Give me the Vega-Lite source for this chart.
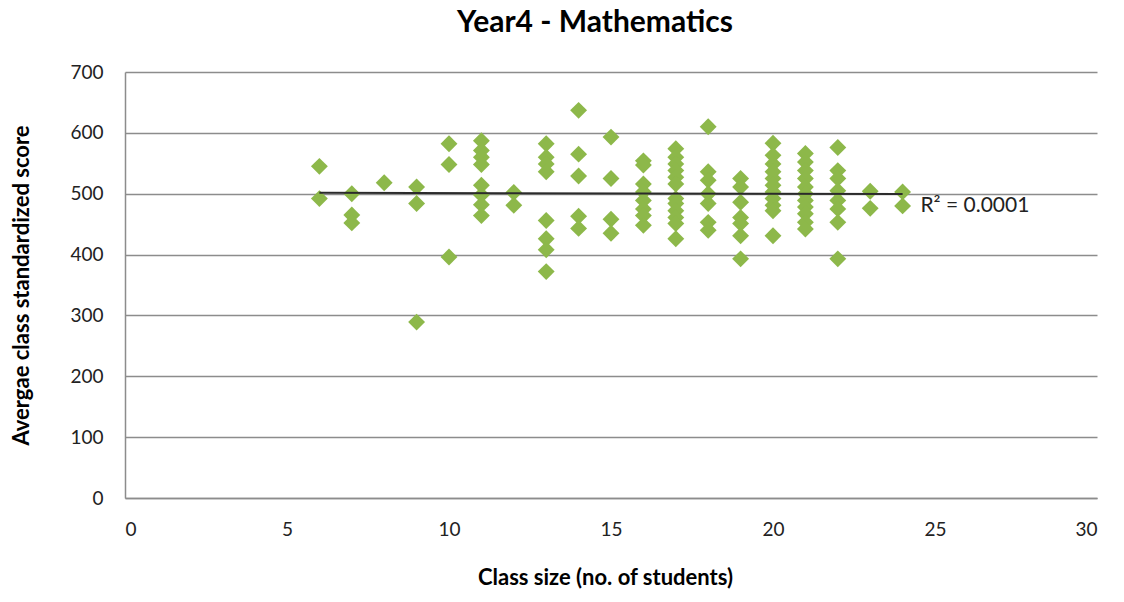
{
  "$schema": "https://vega.github.io/schema/vega-lite/v6.json",
  "autosize": {"type": "none"},
  "width": 972,
  "height": 426,
  "padding": {"left": 125, "top": 72, "right": 27, "bottom": 104},
  "background": "white",
  "config": {"view": {"stroke": null}, "font": "Lato"},
  "title": {
    "text": "Year4 - Mathematics",
    "font": "Lato",
    "fontSize": 30,
    "fontWeight": "bold",
    "color": "#000000",
    "anchor": "middle",
    "dx": -16,
    "offset": 25
  },
  "datasets": {
    "points": [
      {"size": 6, "score": 545}, {"size": 6, "score": 492},
      {"size": 7, "score": 500}, {"size": 7, "score": 465}, {"size": 7, "score": 452},
      {"size": 8, "score": 518},
      {"size": 9, "score": 511}, {"size": 9, "score": 484}, {"size": 9, "score": 289},
      {"size": 10, "score": 582}, {"size": 10, "score": 548}, {"size": 10, "score": 396},
      {"size": 11, "score": 587}, {"size": 11, "score": 571}, {"size": 11, "score": 560}, {"size": 11, "score": 548}, {"size": 11, "score": 514}, {"size": 11, "score": 498}, {"size": 11, "score": 482}, {"size": 11, "score": 464},
      {"size": 12, "score": 502}, {"size": 12, "score": 481},
      {"size": 13, "score": 582}, {"size": 13, "score": 560}, {"size": 13, "score": 549}, {"size": 13, "score": 536}, {"size": 13, "score": 456}, {"size": 13, "score": 426}, {"size": 13, "score": 408}, {"size": 13, "score": 372},
      {"size": 14, "score": 637}, {"size": 14, "score": 565}, {"size": 14, "score": 529}, {"size": 14, "score": 463}, {"size": 14, "score": 443},
      {"size": 15, "score": 593}, {"size": 15, "score": 525}, {"size": 15, "score": 458}, {"size": 15, "score": 435},
      {"size": 16, "score": 554}, {"size": 16, "score": 547}, {"size": 16, "score": 516}, {"size": 16, "score": 503}, {"size": 16, "score": 489}, {"size": 16, "score": 475}, {"size": 16, "score": 464}, {"size": 16, "score": 448},
      {"size": 17, "score": 574}, {"size": 17, "score": 560}, {"size": 17, "score": 549}, {"size": 17, "score": 538}, {"size": 17, "score": 527}, {"size": 17, "score": 516}, {"size": 17, "score": 492}, {"size": 17, "score": 484}, {"size": 17, "score": 472}, {"size": 17, "score": 461}, {"size": 17, "score": 451}, {"size": 17, "score": 426},
      {"size": 18, "score": 610}, {"size": 18, "score": 536}, {"size": 18, "score": 522}, {"size": 18, "score": 500}, {"size": 18, "score": 484}, {"size": 18, "score": 453}, {"size": 18, "score": 440},
      {"size": 19, "score": 525}, {"size": 19, "score": 511}, {"size": 19, "score": 486}, {"size": 19, "score": 461}, {"size": 19, "score": 451}, {"size": 19, "score": 431}, {"size": 19, "score": 393},
      {"size": 20, "score": 583}, {"size": 20, "score": 563}, {"size": 20, "score": 549}, {"size": 20, "score": 536}, {"size": 20, "score": 525}, {"size": 20, "score": 514}, {"size": 20, "score": 503}, {"size": 20, "score": 492}, {"size": 20, "score": 481}, {"size": 20, "score": 472}, {"size": 20, "score": 431},
      {"size": 21, "score": 566}, {"size": 21, "score": 552}, {"size": 21, "score": 538}, {"size": 21, "score": 525}, {"size": 21, "score": 511}, {"size": 21, "score": 500}, {"size": 21, "score": 489}, {"size": 21, "score": 478}, {"size": 21, "score": 467}, {"size": 21, "score": 453}, {"size": 21, "score": 442},
      {"size": 22, "score": 576}, {"size": 22, "score": 538}, {"size": 22, "score": 525}, {"size": 22, "score": 505}, {"size": 22, "score": 489}, {"size": 22, "score": 475}, {"size": 22, "score": 453}, {"size": 22, "score": 393},
      {"size": 23, "score": 504}, {"size": 23, "score": 476},
      {"size": 24, "score": 503}, {"size": 24, "score": 480}
    ],
    "trend": [
      {"size": 6, "score": 501.5},
      {"size": 24, "score": 499.5}
    ],
    "label": [
      {"size": 24.55, "score": 480, "text": "R² = 0.0001"}
    ]
  },
  "layer": [
    {
      "data": {"name": "points"},
      "mark": {"type": "point", "shape": "diamond", "filled": true, "size": 285, "color": "#8DB84A", "opacity": 1},
      "encoding": {
        "x": {
          "field": "size", "type": "quantitative",
          "scale": {"domain": [0, 30], "nice": false, "zero": true},
          "axis": {
            "title": "Class size (no. of students)",
            "values": [0, 5, 10, 15, 20, 25, 30],
            "grid": false,
            "ticks": false,
            "domainColor": "#8c8c8c",
            "domainWidth": 1.5,
            "labelFont": "Lato",
            "labelFontSize": 19,
            "labelColor": "#222222",
            "labelPadding": 22,
            "titleFont": "Lato",
            "titleFontSize": 22,
            "titleFontWeight": "bold",
            "titleColor": "#000000",
            "titlePadding": 28,
            "titleX": 480
          }
        },
        "y": {
          "field": "score", "type": "quantitative",
          "scale": {"domain": [0, 700], "nice": false},
          "axis": {
            "title": "Avergae class standardized  score",
            "values": [0, 100, 200, 300, 400, 500, 600, 700],
            "grid": true,
            "gridColor": "#8c8c8c",
            "gridWidth": 1.5,
            "ticks": false,
            "domainColor": "#8c8c8c",
            "domainWidth": 1.5,
            "labelFont": "Lato",
            "labelFontSize": 19,
            "labelColor": "#222222",
            "labelPadding": 22,
            "titleFont": "Lato",
            "titleFontSize": 22,
            "titleFontWeight": "bold",
            "titleColor": "#000000",
            "titlePadding": 36
          }
        }
      }
    },
    {
      "data": {"name": "trend"},
      "mark": {"type": "line", "color": "#2b2b2b", "strokeWidth": 2},
      "encoding": {
        "x": {"field": "size", "type": "quantitative"},
        "y": {"field": "score", "type": "quantitative"}
      }
    },
    {
      "data": {"name": "label"},
      "mark": {"type": "text", "align": "left", "baseline": "middle", "font": "Lato", "fontSize": 21, "color": "#222222"},
      "encoding": {
        "x": {"field": "size", "type": "quantitative"},
        "y": {"field": "score", "type": "quantitative"},
        "text": {"field": "text"}
      }
    }
  ]
}
